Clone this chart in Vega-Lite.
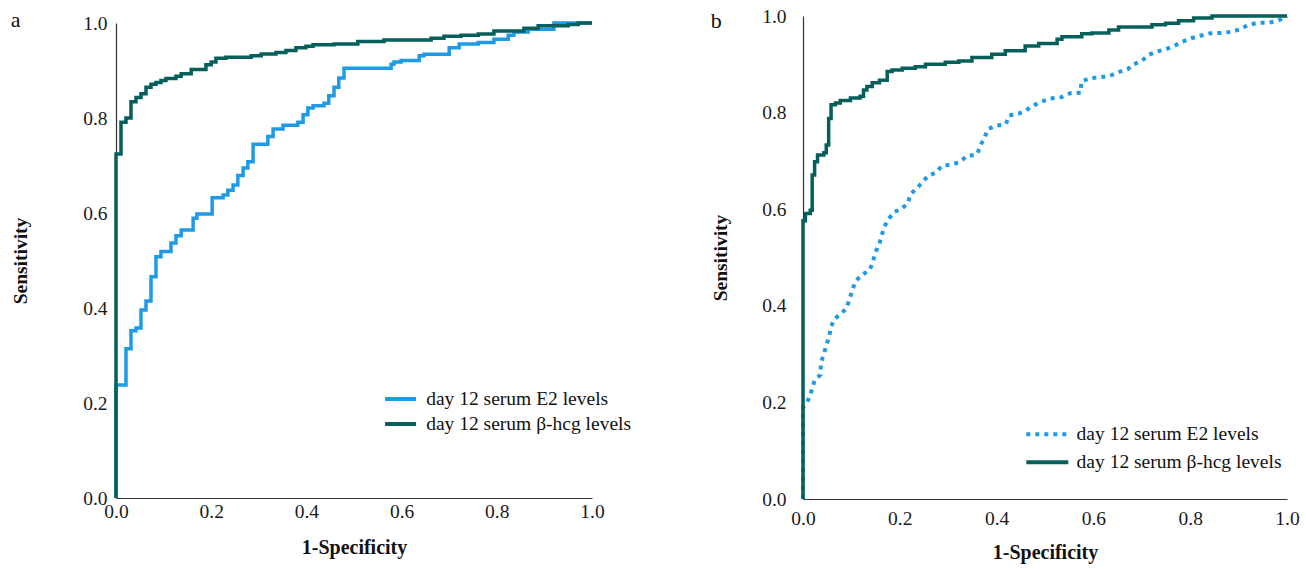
{
  "$schema": "https://vega.github.io/schema/vega-lite/v6.json",
  "padding": {"left": 10, "top": 6, "right": 5, "bottom": 5},
  "background": "white",
  "spacing": 78,
  "config": {
    "font": "Liberation Serif, Times New Roman, serif",
    "view": {"stroke": null},
    "axis": {
      "labelFont": "Liberation Serif, Times New Roman, serif", "labelFontSize": 19.5, "labelColor": "#1a1a1a",
      "titleFont": "Liberation Serif, Times New Roman, serif", "titleFontSize": 19.5, "titleFontWeight": "bold", "titleColor": "#111111",
      "domainColor": "#333333", "domainWidth": 1.2, "ticks": false, "grid": false, "labelFlush": false
    },
    "legend": {"labelFont": "Liberation Serif, Times New Roman, serif", "labelFontSize": 19.5, "labelColor": "#111111", "labelLimit": 400},
    "title": {"font": "Liberation Serif, Times New Roman, serif", "fontSize": 22, "fontWeight": "normal", "anchor": "start", "frame": "bounds", "color": "#111111"}
  },
  "resolve": {"scale": {"color": "independent", "strokeDash": "independent"}, "legend": {"color": "independent", "strokeDash": "independent"}},
  "hconcat": [
    {
      "width": 476, "height": 482,
      "title": {"text": "a", "offset": -19},
      "data": {"values": [
        {"s":"E2","i":0,"x":0,"y":0},{"s":"E2","i":1,"x":0,"y":0.238},{"s":"E2","i":2,"x":0.021,"y":0.314},{"s":"E2","i":3,"x":0.0315,"y":0.352},{"s":"E2","i":4,"x":0.042,"y":0.358},{"s":"E2","i":5,"x":0.0525,"y":0.396},{"s":"E2","i":6,"x":0.063,"y":0.415},{"s":"E2","i":7,"x":0.0735,"y":0.466},{"s":"E2","i":8,"x":0.084,"y":0.508},{"s":"E2","i":9,"x":0.0945,"y":0.519},{"s":"E2","i":10,"x":0.1155,"y":0.537},{"s":"E2","i":11,"x":0.126,"y":0.552},{"s":"E2","i":12,"x":0.137,"y":0.564},{"s":"E2","i":13,"x":0.162,"y":0.589},{"s":"E2","i":14,"x":0.17,"y":0.598},{"s":"E2","i":15,"x":0.202,"y":0.632},{"s":"E2","i":16,"x":0.225,"y":0.638},{"s":"E2","i":17,"x":0.235,"y":0.648},{"s":"E2","i":18,"x":0.246,"y":0.659},{"s":"E2","i":19,"x":0.256,"y":0.679},{"s":"E2","i":20,"x":0.267,"y":0.695},{"s":"E2","i":21,"x":0.277,"y":0.708},{"s":"E2","i":22,"x":0.288,"y":0.745},{"s":"E2","i":23,"x":0.319,"y":0.761},{"s":"E2","i":24,"x":0.33,"y":0.777},{"s":"E2","i":25,"x":0.351,"y":0.785},{"s":"E2","i":26,"x":0.382,"y":0.791},{"s":"E2","i":27,"x":0.393,"y":0.807},{"s":"E2","i":28,"x":0.403,"y":0.821},{"s":"E2","i":29,"x":0.414,"y":0.826},{"s":"E2","i":30,"x":0.437,"y":0.831},{"s":"E2","i":31,"x":0.447,"y":0.847},{"s":"E2","i":32,"x":0.458,"y":0.865},{"s":"E2","i":33,"x":0.468,"y":0.884},{"s":"E2","i":34,"x":0.479,"y":0.905},{"s":"E2","i":35,"x":0.578,"y":0.913},{"s":"E2","i":36,"x":0.584,"y":0.918},{"s":"E2","i":37,"x":0.599,"y":0.921},{"s":"E2","i":38,"x":0.637,"y":0.931},{"s":"E2","i":39,"x":0.647,"y":0.934},{"s":"E2","i":40,"x":0.7,"y":0.948},{"s":"E2","i":41,"x":0.721,"y":0.956},{"s":"E2","i":42,"x":0.761,"y":0.959},{"s":"E2","i":43,"x":0.794,"y":0.966},{"s":"E2","i":44,"x":0.824,"y":0.974},{"s":"E2","i":45,"x":0.836,"y":0.981},{"s":"E2","i":46,"x":0.866,"y":0.987},{"s":"E2","i":47,"x":0.92,"y":1.0},{"s":"E2","i":48,"x":1.0,"y":1.0},
        {"s":"hcg","i":0,"x":0,"y":0},{"s":"hcg","i":1,"x":0,"y":0.724},{"s":"hcg","i":2,"x":0.0105,"y":0.791},{"s":"hcg","i":3,"x":0.021,"y":0.8},{"s":"hcg","i":4,"x":0.0315,"y":0.834},{"s":"hcg","i":5,"x":0.042,"y":0.843},{"s":"hcg","i":6,"x":0.0525,"y":0.851},{"s":"hcg","i":7,"x":0.063,"y":0.865},{"s":"hcg","i":8,"x":0.0735,"y":0.871},{"s":"hcg","i":9,"x":0.084,"y":0.875},{"s":"hcg","i":10,"x":0.0945,"y":0.879},{"s":"hcg","i":11,"x":0.105,"y":0.883},{"s":"hcg","i":12,"x":0.126,"y":0.888},{"s":"hcg","i":13,"x":0.137,"y":0.893},{"s":"hcg","i":14,"x":0.158,"y":0.902},{"s":"hcg","i":15,"x":0.189,"y":0.912},{"s":"hcg","i":16,"x":0.2,"y":0.918},{"s":"hcg","i":17,"x":0.21,"y":0.926},{"s":"hcg","i":18,"x":0.231,"y":0.928},{"s":"hcg","i":19,"x":0.284,"y":0.931},{"s":"hcg","i":20,"x":0.305,"y":0.935},{"s":"hcg","i":21,"x":0.336,"y":0.938},{"s":"hcg","i":22,"x":0.357,"y":0.942},{"s":"hcg","i":23,"x":0.378,"y":0.948},{"s":"hcg","i":24,"x":0.399,"y":0.951},{"s":"hcg","i":25,"x":0.414,"y":0.954},{"s":"hcg","i":26,"x":0.458,"y":0.956},{"s":"hcg","i":27,"x":0.508,"y":0.961},{"s":"hcg","i":28,"x":0.563,"y":0.964},{"s":"hcg","i":29,"x":0.662,"y":0.968},{"s":"hcg","i":30,"x":0.689,"y":0.972},{"s":"hcg","i":31,"x":0.725,"y":0.974},{"s":"hcg","i":32,"x":0.761,"y":0.977},{"s":"hcg","i":33,"x":0.794,"y":0.983},{"s":"hcg","i":34,"x":0.857,"y":0.989},{"s":"hcg","i":35,"x":0.887,"y":0.994},{"s":"hcg","i":36,"x":0.95,"y":0.997},{"s":"hcg","i":37,"x":0.971,"y":1.0},{"s":"hcg","i":38,"x":1.0,"y":1.0}
      ]},
      "mark": {"type": "line", "interpolate": "step-after", "strokeWidth": 3.5},
      "encoding": {
        "x": {"field": "x", "type": "quantitative", "scale": {"domain": [0, 1], "nice": false}, "axis": {"title": "1-Specificity", "values": [0, 0.2, 0.4, 0.6, 0.8, 1], "format": ".1f", "labelPadding": 4, "titlePadding": 17, "titleFontSize": 20}},
        "y": {"field": "y", "type": "quantitative", "scale": {"domain": [0, 1], "nice": false, "range": [482, 7]}, "axis": {"title": "Sensitivity", "values": [0, 0.2, 0.4, 0.6, 0.8, 1], "format": ".1f", "labelPadding": 9, "titlePadding": 52}},
        "order": {"field": "i", "type": "quantitative"},
        "color": {"field": "s", "type": "nominal",
          "scale": {"domain": ["E2", "hcg"], "range": ["#1f9be6", "#055f5b"]},
          "legend": {"title": null, "orient": "none", "legendX": 271.6, "legendY": 370, "symbolType": "M-1.42,0H1.42", "symbolSize": 475, "symbolStrokeWidth": 4, "labelOffset": 12.6, "padding": 0,
            "labelExpr": "datum.value == 'E2' ? 'day 12 serum E2 levels' : 'day 12 serum β-hcg levels'"}}
      }
    },
    {
      "width": 484, "height": 483,
      "title": {"text": "b", "offset": -27},
      "data": {"values": [
        {"s":"E2","i":0,"x":0,"y":0},{"s":"E2","i":1,"x":0,"y":0.19},{"s":"E2","i":2,"x":0.006,"y":0.195},{"s":"E2","i":3,"x":0.012,"y":0.208},{"s":"E2","i":4,"x":0.019,"y":0.228},{"s":"E2","i":5,"x":0.024,"y":0.246},{"s":"E2","i":6,"x":0.036,"y":0.257},{"s":"E2","i":7,"x":0.037,"y":0.282},{"s":"E2","i":8,"x":0.043,"y":0.3},{"s":"E2","i":9,"x":0.048,"y":0.318},{"s":"E2","i":10,"x":0.054,"y":0.336},{"s":"E2","i":11,"x":0.058,"y":0.357},{"s":"E2","i":12,"x":0.065,"y":0.373},{"s":"E2","i":13,"x":0.079,"y":0.384},{"s":"E2","i":14,"x":0.09,"y":0.395},{"s":"E2","i":15,"x":0.096,"y":0.414},{"s":"E2","i":16,"x":0.102,"y":0.432},{"s":"E2","i":17,"x":0.108,"y":0.45},{"s":"E2","i":18,"x":0.12,"y":0.463},{"s":"E2","i":19,"x":0.137,"y":0.473},{"s":"E2","i":20,"x":0.144,"y":0.489},{"s":"E2","i":21,"x":0.149,"y":0.509},{"s":"E2","i":22,"x":0.158,"y":0.529},{"s":"E2","i":23,"x":0.163,"y":0.547},{"s":"E2","i":24,"x":0.168,"y":0.564},{"s":"E2","i":25,"x":0.177,"y":0.579},{"s":"E2","i":26,"x":0.187,"y":0.594},{"s":"E2","i":27,"x":0.203,"y":0.6},{"s":"E2","i":28,"x":0.217,"y":0.613},{"s":"E2","i":29,"x":0.222,"y":0.631},{"s":"E2","i":30,"x":0.233,"y":0.641},{"s":"E2","i":31,"x":0.247,"y":0.656},{"s":"E2","i":32,"x":0.258,"y":0.669},{"s":"E2","i":33,"x":0.275,"y":0.676},{"s":"E2","i":34,"x":0.287,"y":0.69},{"s":"E2","i":35,"x":0.306,"y":0.692},{"s":"E2","i":36,"x":0.325,"y":0.698},{"s":"E2","i":37,"x":0.337,"y":0.709},{"s":"E2","i":38,"x":0.36,"y":0.714},{"s":"E2","i":39,"x":0.366,"y":0.731},{"s":"E2","i":40,"x":0.375,"y":0.748},{"s":"E2","i":41,"x":0.382,"y":0.766},{"s":"E2","i":42,"x":0.4,"y":0.773},{"s":"E2","i":43,"x":0.419,"y":0.776},{"s":"E2","i":44,"x":0.426,"y":0.794},{"s":"E2","i":45,"x":0.446,"y":0.798},{"s":"E2","i":46,"x":0.461,"y":0.805},{"s":"E2","i":47,"x":0.479,"y":0.816},{"s":"E2","i":48,"x":0.494,"y":0.823},{"s":"E2","i":49,"x":0.511,"y":0.829},{"s":"E2","i":50,"x":0.534,"y":0.832},{"s":"E2","i":51,"x":0.552,"y":0.84},{"s":"E2","i":52,"x":0.574,"y":0.841},{"s":"E2","i":53,"x":0.575,"y":0.864},{"s":"E2","i":54,"x":0.592,"y":0.871},{"s":"E2","i":55,"x":0.612,"y":0.873},{"s":"E2","i":56,"x":0.634,"y":0.876},{"s":"E2","i":57,"x":0.65,"y":0.883},{"s":"E2","i":58,"x":0.671,"y":0.89},{"s":"E2","i":59,"x":0.683,"y":0.9},{"s":"E2","i":60,"x":0.7,"y":0.907},{"s":"E2","i":61,"x":0.713,"y":0.919},{"s":"E2","i":62,"x":0.73,"y":0.926},{"s":"E2","i":63,"x":0.749,"y":0.931},{"s":"E2","i":64,"x":0.767,"y":0.938},{"s":"E2","i":65,"x":0.784,"y":0.947},{"s":"E2","i":66,"x":0.802,"y":0.954},{"s":"E2","i":67,"x":0.821,"y":0.959},{"s":"E2","i":68,"x":0.839,"y":0.964},{"s":"E2","i":69,"x":0.862,"y":0.965},{"s":"E2","i":70,"x":0.885,"y":0.967},{"s":"E2","i":71,"x":0.904,"y":0.973},{"s":"E2","i":72,"x":0.919,"y":0.981},{"s":"E2","i":73,"x":0.94,"y":0.986},{"s":"E2","i":74,"x":0.962,"y":0.986},{"s":"E2","i":75,"x":0.981,"y":0.99},{"s":"E2","i":76,"x":1.0,"y":1.0},
        {"s":"hcg","i":0,"x":0,"y":0},{"s":"hcg","i":1,"x":0,"y":0.576},{"s":"hcg","i":2,"x":0.005,"y":0.591},{"s":"hcg","i":3,"x":0.015,"y":0.598},{"s":"hcg","i":4,"x":0.019,"y":0.671},{"s":"hcg","i":5,"x":0.024,"y":0.698},{"s":"hcg","i":6,"x":0.03,"y":0.712},{"s":"hcg","i":7,"x":0.043,"y":0.717},{"s":"hcg","i":8,"x":0.048,"y":0.733},{"s":"hcg","i":9,"x":0.053,"y":0.788},{"s":"hcg","i":10,"x":0.058,"y":0.816},{"s":"hcg","i":11,"x":0.067,"y":0.82},{"s":"hcg","i":12,"x":0.077,"y":0.825},{"s":"hcg","i":13,"x":0.098,"y":0.83},{"s":"hcg","i":14,"x":0.118,"y":0.834},{"s":"hcg","i":15,"x":0.125,"y":0.847},{"s":"hcg","i":16,"x":0.132,"y":0.854},{"s":"hcg","i":17,"x":0.143,"y":0.862},{"s":"hcg","i":18,"x":0.158,"y":0.867},{"s":"hcg","i":19,"x":0.174,"y":0.885},{"s":"hcg","i":20,"x":0.184,"y":0.888},{"s":"hcg","i":21,"x":0.205,"y":0.892},{"s":"hcg","i":22,"x":0.232,"y":0.895},{"s":"hcg","i":23,"x":0.253,"y":0.9},{"s":"hcg","i":24,"x":0.294,"y":0.904},{"s":"hcg","i":25,"x":0.322,"y":0.907},{"s":"hcg","i":26,"x":0.349,"y":0.914},{"s":"hcg","i":27,"x":0.39,"y":0.921},{"s":"hcg","i":28,"x":0.418,"y":0.928},{"s":"hcg","i":29,"x":0.459,"y":0.938},{"s":"hcg","i":30,"x":0.487,"y":0.943},{"s":"hcg","i":31,"x":0.525,"y":0.952},{"s":"hcg","i":32,"x":0.535,"y":0.957},{"s":"hcg","i":33,"x":0.576,"y":0.963},{"s":"hcg","i":34,"x":0.597,"y":0.965},{"s":"hcg","i":35,"x":0.632,"y":0.971},{"s":"hcg","i":36,"x":0.652,"y":0.977},{"s":"hcg","i":37,"x":0.721,"y":0.982},{"s":"hcg","i":38,"x":0.749,"y":0.985},{"s":"hcg","i":39,"x":0.776,"y":0.99},{"s":"hcg","i":40,"x":0.807,"y":0.996},{"s":"hcg","i":41,"x":0.845,"y":1.0},{"s":"hcg","i":42,"x":1.0,"y":1.0}
      ]},
      "encoding": {
        "x": {"field": "x", "type": "quantitative", "scale": {"domain": [0, 1], "nice": false}, "axis": {"title": "1-Specificity", "values": [0, 0.2, 0.4, 0.6, 0.8, 1], "format": ".1f", "labelPadding": 10.5, "titlePadding": 14, "titleFontSize": 20}},
        "y": {"field": "y", "type": "quantitative", "scale": {"domain": [0, 1], "nice": false}, "axis": {"title": "Sensitivity", "values": [0, 0.2, 0.4, 0.6, 0.8, 1], "format": ".1f", "labelPadding": 17, "titlePadding": 31}},
        "order": {"field": "i", "type": "quantitative"},
        "color": {"field": "s", "type": "nominal",
          "scale": {"domain": ["E2", "hcg"], "range": ["#1f9be6", "#055f5b"]},
          "legend": {"title": null, "orient": "none", "legendX": 228.3, "legendY": 402.3, "symbolType": "M-1.533,0H1.533", "symbolSize": 750, "symbolStrokeWidth": 4, "labelOffset": 13.3, "padding": 0,
            "labelExpr": "datum.value == 'E2' ? 'day 12 serum E2 levels' : 'day 12 serum β-hcg levels'"}},
        "strokeDash": {"field": "s", "type": "nominal",
          "scale": {"domain": ["E2", "hcg"], "range": [[4, 5], [1, 0]]},
          "legend": {"title": null, "orient": "none", "legendX": 228.3, "legendY": 402.3, "symbolType": "M-1.533,0H1.533", "symbolSize": 750, "symbolStrokeWidth": 4, "labelOffset": 13.3, "padding": 0,
            "labelExpr": "datum.value == 'E2' ? 'day 12 serum E2 levels' : 'day 12 serum β-hcg levels'"}}
      },
      "layer": [
        {"transform": [{"filter": "datum.s == 'E2'"}], "mark": {"type": "line", "interpolate": "linear", "strokeWidth": 4}},
        {"transform": [{"filter": "datum.s == 'hcg'"}], "mark": {"type": "line", "interpolate": "step-after", "strokeWidth": 3.5}}
      ]
    }
  ]
}
